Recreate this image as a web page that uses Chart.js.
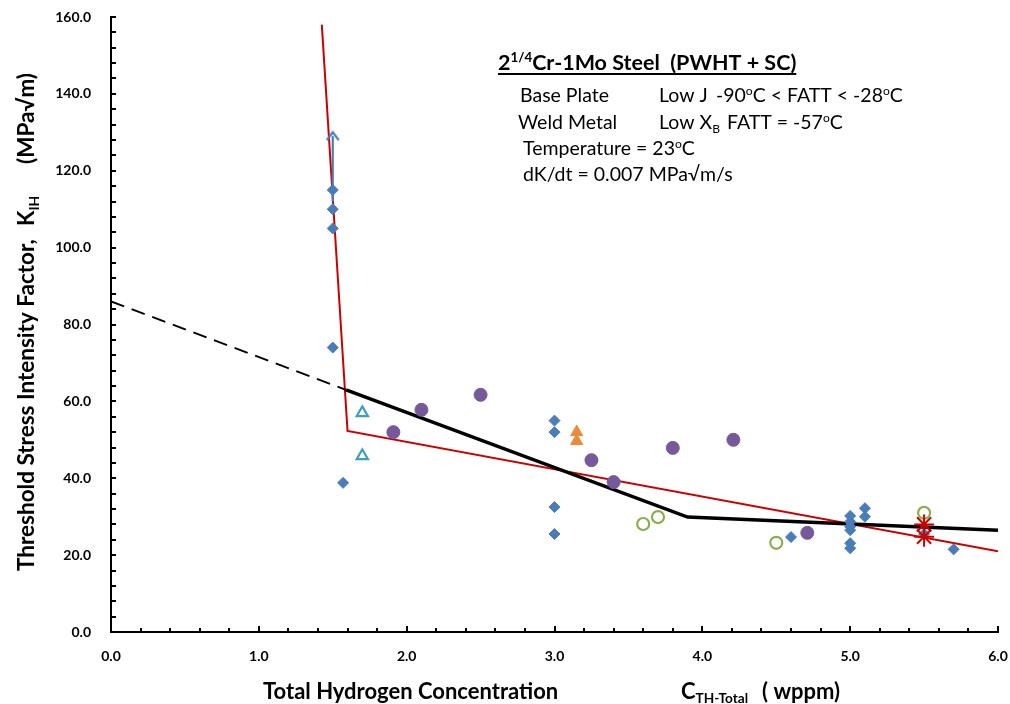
<!DOCTYPE html>
<html><head><meta charset="utf-8">
<script src="https://cdn.jsdelivr.net/npm/chart.js@4.4.1/dist/chart.umd.min.js"></script>
<style>html,body{margin:0;padding:0;background:#fff;}#wrap{width:1010px;height:704px;}</style>
</head><body><div id="wrap"><canvas id="c" width="1010" height="704"></canvas></div>
<script>
// ---- tick labels ----
const xTickValues = [0, 1, 2, 3, 4, 5, 6];
const yTickValues = [0, 20, 40, 60, 80, 100, 120, 140, 160];

// ---- data series ----
const basePlateX = [1.5, 1.5, 1.5, 1.5, 1.57, 3.0, 3.0, 3.0, 3.0, 4.6, 5.0, 5.0, 5.0, 5.0, 5.0, 5.0, 5.1, 5.1, 5.5, 5.7];
const basePlateY = [115, 110, 105, 74, 38.8, 55, 52, 32.5, 25.5, 24.7, 30.2, 28.7, 27.4, 26.5, 23.1, 21.8, 32.2, 30.0, 25.5, 21.5];

const arrowX = [1.5, 1.5];
const arrowY = [112, 129];

const tealTriX = [1.70, 1.70];
const tealTriY = [57, 45.8];

const purpleX = [1.91, 2.10, 2.50, 3.25, 3.40, 3.80, 4.21, 4.71];
const purpleY = [52, 57.8, 61.7, 44.7, 39, 47.9, 50, 25.8];

const orangeX = [3.15, 3.15];
const orangeY = [52, 49.7];

const greenX = [3.6, 3.7, 4.5, 5.5];
const greenY = [28.1, 29.9, 23.2, 31.0];

const redStarX = [5.5, 5.5];
const redStarY = [28.0, 24.8];

const redLineX = [1.426, 1.60, 6.0];
const redLineY = [158, 52.3, 21.0];

const blackLineX = [1.59, 3.9, 6.0];
const blackLineY = [63, 29.9, 26.5];

const dashLineX = [0, 1.59];
const dashLineY = [86, 63];

const pts = (xs, ys) => xs.map((x, i) => ({x, y: ys[i]}));

// chevron arrow head
const chev = document.createElement('canvas');
chev.width = 16; chev.height = 12;
(function(){const c = chev.getContext('2d'); c.strokeStyle = '#4A7DB8'; c.lineWidth = 2.2; c.beginPath(); c.moveTo(2,10); c.lineTo(8,2); c.lineTo(14,10); c.stroke();})();

const FONT = 'Lato, Carlito, "Open Sans", sans-serif';

function drawRich(ctx, x, y, segs, size, bold, measureOnly) {
  let cx = x;
  for (const s of segs) {
    const t = typeof s === 'string' ? s : s[0];
    const kind = typeof s === 'string' ? 'n' : s[1];
    let fs = size, dy = 0;
    if (kind === 'sup') { fs = size * 0.62; dy = -size * 0.36; }
    if (kind === 'sub') { fs = size * 0.62; dy = size * 0.2; }
    ctx.font = (bold ? 'bold ' : '') + fs + 'px ' + FONT;
    if (!measureOnly) ctx.fillText(t, cx, y + dy);
    cx += ctx.measureText(t).width;
  }
  return cx - x;
}

const decor = {
  id: 'decor',
  afterDraw(chart) {
    const ctx = chart.ctx;
    const xs = chart.scales.x, ys = chart.scales.y;
    ctx.save();
    // inside tick marks
    ctx.strokeStyle = '#000'; ctx.lineWidth = 2;
    for (let v = 0; v <= 160.001; v += 4) {
      const py = Math.round(ys.getPixelForValue(v));
      ctx.beginPath(); ctx.moveTo(xs.left, py); ctx.lineTo(xs.left + 5, py); ctx.stroke();
    }
    for (let i = 0; i <= 30; i++) {
      const px = Math.round(xs.getPixelForValue(i * 0.2));
      const len = (i % 5 === 0) ? 6 : 4;
      ctx.beginPath(); ctx.moveTo(px, ys.bottom); ctx.lineTo(px, ys.bottom - len); ctx.stroke();
    }
    ctx.fillStyle = '#000';
    ctx.textBaseline = 'alphabetic';
    ctx.textAlign = 'left';
    // annotation box
    const w = drawRich(ctx, 498, 70, ['2', ['1/4', 'sup'], 'Cr-1Mo Steel  (PWHT + SC)'], 21.5, true);
    ctx.lineWidth = 2; ctx.beginPath(); ctx.moveTo(498, 74); ctx.lineTo(498 + w, 74); ctx.stroke();
    drawRich(ctx, 520, 102, ['Base Plate'], 19.5, false);
    drawRich(ctx, 659, 102, ['Low J'], 19.5, false);
    drawRich(ctx, 716, 102, ['-90', ['o', 'sup'], 'C < FATT < -28', ['o', 'sup'], 'C'], 19.5, false);
    drawRich(ctx, 518, 129, ['Weld Metal'], 19.5, false);
    drawRich(ctx, 659, 129, ['Low X', ['B', 'sub']], 19.5, false);
    drawRich(ctx, 727, 129, ['FATT = -57', ['o', 'sup'], 'C'], 19.5, false);
    drawRich(ctx, 523, 155, ['Temperature = 23', ['o', 'sup'], 'C'], 19.5, false);
    drawRich(ctx, 523, 181, ['dK/dt = 0.007 MPa\u221Am/s'], 19.5, false);
    // x axis title
    drawRich(ctx, 263, 699, ['Total Hydrogen Concentration'], 22, true);
    drawRich(ctx, 681, 699, ['C', ['TH-Total', 'sub']], 22, true);
    drawRich(ctx, 762, 699, ['( wppm)'], 22, true);
    // y axis title (rotated; positions given as canvas y where each part starts)
    ctx.translate(34, 0); ctx.rotate(-Math.PI / 2);
    drawRich(ctx, -571, 0, ['Threshold Stress Intensity Factor,'], 22.5, true);
    drawRich(ctx, -226, 0, ['K', ['IH', 'sub']], 22.5, true);
    drawRich(ctx, -164, 0, ['(MPa\u221Am)'], 22.5, true);
    ctx.restore();
  }
};

const tickFont = {family: FONT, size: 14, weight: 'bold'};

new Chart(document.getElementById('c'), {
  type: 'scatter',
  data: {
    datasets: [
      {label: 'Arrow', data: pts(arrowX, arrowY), showLine: true, borderColor: '#4A7DB8', borderWidth: 2.2, pointRadius: [0, 8], pointStyle: chev, order: 1},
      {label: 'Red asterisk', data: pts(redStarX, redStarY), pointStyle: 'star', radius: 10, borderColor: '#CC0000', borderWidth: 2, backgroundColor: '#CC0000', order: 2},
      {label: 'Base Plate', data: pts(basePlateX, basePlateY), pointStyle: 'rectRot', radius: 5.5, backgroundColor: '#4A7DB8', borderColor: '#4A7DB8', borderWidth: 1, order: 3},
      {label: 'Purple', data: pts(purpleX, purpleY), pointStyle: 'circle', radius: 6.5, backgroundColor: '#76599A', borderColor: '#76599A', borderWidth: 1, order: 3},
      {label: 'Orange', data: pts(orangeX, orangeY), pointStyle: 'triangle', radius: 7, backgroundColor: '#E98B3A', borderColor: '#E98B3A', borderWidth: 1, order: 3},
      {label: 'Teal', data: pts(tealTriX, tealTriY), pointStyle: 'triangle', radius: 6.5, backgroundColor: 'rgba(255,255,255,0)', borderColor: '#3FA0BC', borderWidth: 2.2, order: 3},
      {label: 'Green', data: pts(greenX, greenY), pointStyle: 'circle', radius: 6, backgroundColor: 'rgba(255,255,255,0)', borderColor: '#8AAE4E', borderWidth: 2.2, order: 3},
      {label: 'Black fit', data: pts(blackLineX, blackLineY), showLine: true, borderColor: '#000', borderWidth: 3.5, pointRadius: 0, order: 4},
      {label: 'Black extrapolation', data: pts(dashLineX, dashLineY), showLine: true, borderColor: '#000', borderWidth: 2, borderDash: [14, 8], pointRadius: 0, order: 4},
      {label: 'Red fit', data: pts(redLineX, redLineY), showLine: true, borderColor: '#CC0000', borderWidth: 2, pointRadius: 0, order: 5}
    ]
  },
  options: {
    responsive: false, animation: false, devicePixelRatio: 1,
    layout: {padding: {left: 0, right: 12, top: 17, bottom: 0}},
    plugins: {legend: {display: false}, tooltip: {enabled: false}},
    scales: {
      x: {
        type: 'linear', min: 0, max: 6,
        afterBuildTicks: s => { s.ticks = xTickValues.map(v => ({value: v})); },
        afterFit: s => { s.height = 72; s.paddingLeft = 0; s.paddingRight = 0; },
        ticks: {callback: v => Number(v).toFixed(1), color: '#000', font: tickFont, padding: 8, maxRotation: 0, autoSkip: false},
        grid: {display: false},
        border: {display: true, color: '#000', width: 2}
      },
      y: {
        type: 'linear', min: 0, max: 160,
        afterBuildTicks: s => { s.ticks = yTickValues.map(v => ({value: v})); },
        afterFit: s => { s.width = 111; s.paddingTop = 0; s.paddingBottom = 0; },
        ticks: {callback: v => Number(v).toFixed(1), color: '#000', font: tickFont, padding: 12, autoSkip: false},
        grid: {display: false},
        border: {display: true, color: '#000', width: 2}
      }
    }
  },
  plugins: [decor]
});
</script></body></html>
